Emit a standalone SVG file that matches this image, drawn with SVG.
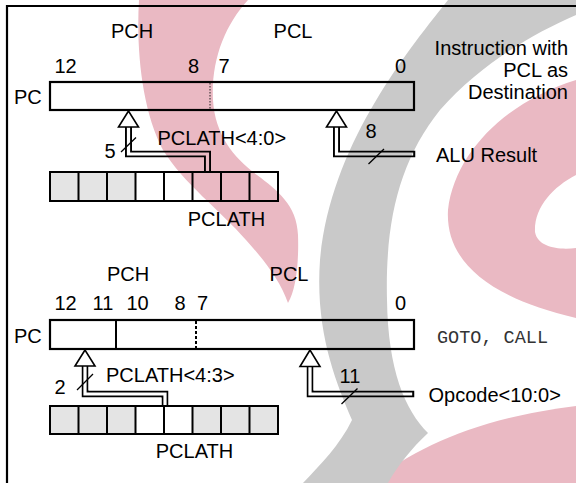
<svg xmlns="http://www.w3.org/2000/svg" width="576" height="483" viewBox="0 0 576 483">
<style>
 text { font-family: "Liberation Sans", Arial, sans-serif; font-size: 20px; fill: #000; }
 .mono { font-family: "Liberation Mono", "Courier New", monospace; font-size: 18.5px; fill: #333; }
 .mid { text-anchor: middle; }
 .end { text-anchor: end; }
 .reg { fill: none; stroke: #000; stroke-width: 2.2; }
 .cell { fill: none; stroke: #000; stroke-width: 2; }
 .shade { fill: #e4e4e4; }
 .head { fill: #fff; stroke: #000; stroke-width: 1.6; stroke-linejoin: miter; }
 .slash { stroke: #000; stroke-width: 1.3; fill: none; }
 .wm-pink { fill: #eab9c3; }
 .wm-gray { fill: #c9c9c9; }
</style>
<defs>
 <path id="b1" d="M128.5,125 V154 H207.5 V171"/>
 <path id="b2" d="M336.5,125 V154 H415.5"/>
 <path id="b3" d="M85,364 V394 H165 V405"/>
 <path id="b4" d="M310,365 V394 H414.5"/>
 <mask id="busMask" maskUnits="userSpaceOnUse" x="0" y="0" width="576" height="483">
  <g fill="none" stroke="#fff" stroke-width="7" stroke-linejoin="miter">
   <use href="#b1"/><use href="#b2"/><use href="#b3"/><use href="#b4"/>
  </g>
  <g fill="none" stroke="#000" stroke-width="3.2" stroke-linejoin="miter">
   <use href="#b1"/><path d="M336.5,120 V154 H413.2"/><use href="#b3"/><path d="M310,360 V394 H412.2"/>
  </g>
 </mask>
</defs>

<g id="watermark">
 <path class="wm-pink" d="M139,0 C136,50 142,110 163,150 C183,183 220,210 246,240 C264,260 280,280 288,303 C296,290 299,262 298,235 C297,205 277,190 257,175 C234,158 215,135 213,100 C211,60 225,25 248,0 Z"/>
 <path class="wm-pink" fill-rule="evenodd" d="M576,80 C510,100 455,150 448,210 C445,262 490,298 576,318 Z M576,175 C553,187 534,207 535,232 C538,248 560,250 576,248 Z"/>
 <path class="wm-pink" d="M370,483 C420,445 480,418 576,406 L576,483 Z"/>
 <path class="wm-gray" d="M448,0 C400,60 330,150 320,260 C315,330 335,380 352,420 C340,445 320,465 303,483 L388,483 C398,465 412,448 428,433 C405,410 388,370 387,300 C385,220 400,160 440,110 C480,65 530,35 576,15 L576,0 Z"/>
</g>

<g id="frame">
 <path d="M7,483 V6 H576" fill="none" stroke="#000" stroke-width="2.2"/>
</g>

<g id="pc-top">
 <text x="132" y="37.5" class="mid">PCH</text>
 <text x="293" y="37.5" class="mid">PCL</text>
 <text x="65.5" y="73" class="mid">12</text>
 <text x="193.5" y="73" class="mid">8</text>
 <text x="224" y="73" class="mid">7</text>
 <text x="400.5" y="73" class="mid">0</text>
 <text x="14" y="103.5">PC</text>
 <rect class="reg" x="50" y="82" width="364" height="28"/>
 <line x1="210" y1="83" x2="210" y2="109" stroke="#222" stroke-width="1" stroke-dasharray="1.5 1.5"/>
</g>

<g id="instr-label">
 <text x="568" y="55" class="end">Instruction with</text>
 <text x="568" y="77" class="end">PCL as</text>
 <text x="568" y="99" class="end">Destination</text>
</g>

<g id="alu-result">
 <text x="436" y="161.5">ALU Result</text>
</g>

<g id="pclath-top">
 <rect class="shade" x="50" y="172" width="85.5" height="29"/>
 <rect class="cell" x="50" y="172" width="228" height="29"/>
 <path class="cell" d="M78.5,172 V201 M107,172 V201 M135.5,172 V201 M164,172 V201 M192.5,172 V201 M221,172 V201 M249.5,172 V201"/>
 <text x="226.5" y="226" class="mid">PCLATH</text>
</g>

<g id="pc-bottom">
 <text x="128" y="281" class="mid">PCH</text>
 <text x="289" y="281" class="mid">PCL</text>
 <text x="65.5" y="310" class="mid">12</text>
 <text x="103" y="310" class="mid">11</text>
 <text x="137.5" y="310" class="mid">10</text>
 <text x="180" y="310" class="mid">8</text>
 <text x="202.5" y="310" class="mid">7</text>
 <text x="400.5" y="310" class="mid">0</text>
 <text x="14" y="342.5">PC</text>
 <rect class="reg" x="50" y="320" width="364" height="29"/>
 <line x1="116" y1="320" x2="116" y2="349" stroke="#000" stroke-width="2"/>
 <line x1="196" y1="321" x2="196" y2="348" stroke="#000" stroke-width="2" stroke-dasharray="3 2"/>
</g>

<g id="goto-call">
 <text x="437" y="342.5" class="mono">GOTO, CALL</text>
</g>

<g id="opcode">
 <text x="428.5" y="401.5">Opcode&lt;10:0&gt;</text>
</g>

<g id="pclath-bottom">
 <rect class="shade" x="50" y="406" width="85.5" height="28"/>
 <rect class="shade" x="192.5" y="406" width="85.5" height="28"/>
 <rect class="cell" x="50" y="406" width="228" height="28"/>
 <path class="cell" d="M78.5,406 V434 M107,406 V434 M135.5,406 V434 M164,406 V434 M192.5,406 V434 M221,406 V434 M249.5,406 V434"/>
 <text x="194.5" y="458" class="mid">PCLATH</text>
</g>

<g id="connectors">
 <g mask="url(#busMask)" fill="none" stroke="#000" stroke-width="7" stroke-linejoin="miter">
  <use href="#b1"/><use href="#b2"/><use href="#b3"/><use href="#b4"/>
 </g>
 <polygon class="head" points="128.5,111 118.5,127 138.5,127"/>
 <polygon class="head" points="336.5,111 326.5,127 346.5,127"/>
 <polygon class="head" points="85,350 75,366 95,366"/>
 <polygon class="head" points="310,350 300,366.5 320,366.5"/>
 <line class="slash" x1="121" y1="152" x2="136" y2="137.5"/>
 <line class="slash" x1="368.5" y1="164" x2="384" y2="149"/>
 <line class="slash" x1="77" y1="390" x2="93" y2="374"/>
 <line class="slash" x1="341.5" y1="404" x2="357.5" y2="388.5"/>
 <text x="110" y="158" class="mid">5</text>
 <text x="371" y="138" class="mid">8</text>
 <text x="157.5" y="145">PCLATH&lt;4:0&gt;</text>
 <text x="60" y="394" class="mid">2</text>
 <text x="350" y="383" class="mid">11</text>
 <text x="106" y="381.5">PCLATH&lt;4:3&gt;</text>
</g>
</svg>
